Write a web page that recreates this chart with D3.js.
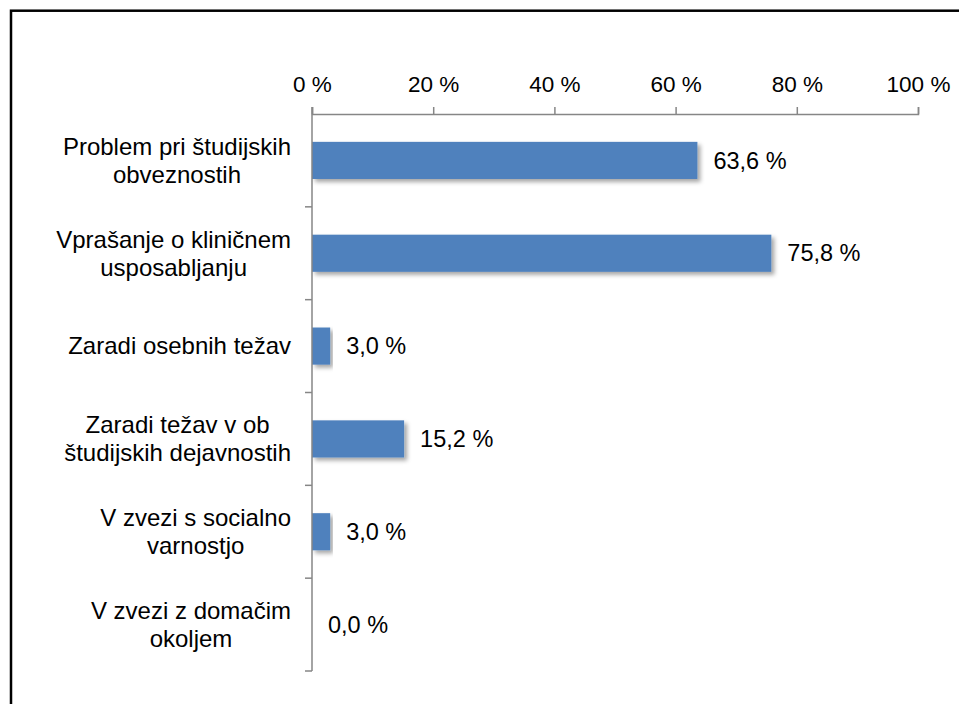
<!DOCTYPE html>
<html>
<head>
<meta charset="utf-8">
<script src="https://cdn.jsdelivr.net/npm/d3@7"></script>
<style>
  body { margin: 0; background: #fff; }
  svg text { font-family: "Liberation Sans", Arial, sans-serif; fill: #000; }
</style>
</head>
<body>
<svg id="chart" width="959" height="704"></svg>
<script>
const categories = [
    ["Problem pri študijskih", "obveznostih"],
    ["Vprašanje o kliničnem", "usposabljanju"],
    ["Zaradi osebnih težav"],
    ["Zaradi težav v ob", "študijskih dejavnostih"],
    ["V zvezi s socialno", "varnostjo"],
    ["V zvezi z domačim", "okoljem"]
];
const values = [63.6, 75.8, 3.0, 15.2, 3.0, 0.0];
const xTicks = [0, 20, 40, 60, 80, 100];

const svg = d3.select("#chart");
const margin = { top: 114, left: 312 };
const width = 606;
const height = 557;

const axisColor = "#868686";
const fmt = v => d3.format(".1f")(v).replace(".", ",") + " %";

// frame
svg.append("rect")
    .attr("x", 11).attr("y", 10.7)
    .attr("width", 980).attr("height", 720)
    .attr("fill", "none")
    .attr("stroke", "#000")
    .attr("stroke-width", 2.5);

const defs = svg.append("defs");
const shadow = defs.append("filter").attr("id", "shadow")
    .attr("x", "-5%").attr("y", "-20%").attr("width", "120%").attr("height", "160%");
shadow.append("feDropShadow")
    .attr("dx", 3).attr("dy", 3).attr("stdDeviation", 2)
    .attr("flood-color", "#000").attr("flood-opacity", 0.35);

const g = svg.append("g").attr("transform", `translate(${margin.left},${margin.top})`);

const x = d3.scaleLinear().domain([0, 100]).range([0, width]);
const y = d3.scaleBand().domain(d3.range(categories.length)).range([0, height]).paddingInner(0.6).paddingOuter(0.3);
const yEdges = d3.scaleLinear().domain([0, categories.length]).range([0, height]);

// bars
g.selectAll(".bar")
    .data(values)
    .join("rect")
    .attr("class", "bar")
    .attr("x", 0)
    .attr("y", (d, i) => y(i))
    .attr("width", d => x(d))
    .attr("height", y.bandwidth())
    .attr("fill", "#4F81BD")
    .attr("filter", "url(#shadow)");

// top axis
const xAxis = d3.axisTop(x).tickValues(xTicks).tickSize(7).tickPadding(15).tickFormat(d => d + " %");
const xAxisG = g.append("g").call(xAxis);
xAxisG.select(".domain").attr("stroke", axisColor).attr("stroke-width", 1.5);
xAxisG.selectAll(".tick line").attr("stroke", axisColor).attr("stroke-width", 1.5);
xAxisG.selectAll(".tick text").style("font-size", "22.5px").attr("fill", "#000");

// left axis with ticks on category boundaries
g.append("line")
    .attr("x1", 0).attr("x2", 0)
    .attr("y1", -7).attr("y2", height)
    .attr("stroke", axisColor).attr("stroke-width", 1.5);
g.selectAll(".ytick")
    .data(d3.range(1, categories.length + 1))
    .join("line")
    .attr("class", "ytick")
    .attr("x1", -7).attr("x2", 0)
    .attr("y1", d => yEdges(d)).attr("y2", d => yEdges(d))
    .attr("stroke", axisColor).attr("stroke-width", 1.5);

// category labels: block right aligned, lines centred
const labelRight = -21;
const lineH = 28;
categories.forEach((lines, i) => {
    const cy = y(i) + y.bandwidth() / 2;
    const t = g.append("text")
        .style("font-size", "24px")
        .attr("text-anchor", "middle");
    const spans = lines.map((ln, k) => t.append("tspan")
        .attr("y", cy + (k - (lines.length - 1) / 2) * lineH)
        .attr("dy", "0.35em")
        .text(ln));
    const w = d3.max(spans, s => s.node().getComputedTextLength());
    spans.forEach(s => s.attr("x", labelRight - w / 2));
});

// value labels
g.selectAll(".val")
    .data(values)
    .join("text")
    .attr("class", "val")
    .attr("x", d => x(d) + 16)
    .attr("y", (d, i) => y(i) + y.bandwidth() / 2)
    .attr("dy", "0.35em")
    .style("font-size", "23.5px")
    .text(d => fmt(d));
</script>
</body>
</html>
